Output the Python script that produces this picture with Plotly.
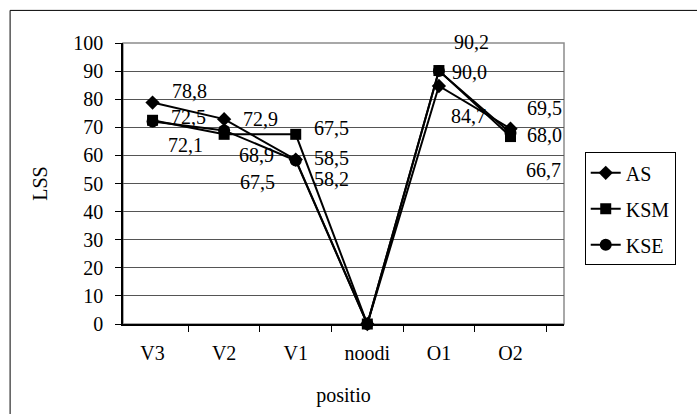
import plotly.graph_objects as go

# Positions along the spine and the measured LSS values per group
categories = ["V3", "V2", "V1", "noodi", "O1", "O2"]
as_values = [78.8, 72.9, 58.5, 0.0, 84.7, 69.5]
ksm_values = [72.5, 67.5, 67.5, 0.0, 90.2, 66.7]
kse_values = [72.1, 68.9, 58.2, 0.0, 90.0, 68.0]
y_ticks = [0, 10, 20, 30, 40, 50, 60, 70, 80, 90, 100]

# Pixel offsets of each value label from its marker (None = no label)
as_label_shift = [(37, 12), (36, 0), (36, 2), None, (30, -30), (34, 21)]
ksm_label_shift = [(36, 3), (33, -48), (36, 6), None, (33, 29), (33, -33)]
kse_label_shift = [(33, -24), (32, -25), (36, -19), None, (31, -1), (34, -2)]

FONT = "Times New Roman, Liberation Serif, serif"
FS = 20

series = [
    ("AS", as_values, "diamond", 11, as_label_shift, 1),
    ("KSE", kse_values, "circle", 12, kse_label_shift, 3),
    ("KSM", ksm_values, "square", 11, ksm_label_shift, 2),
]

fig = go.Figure()
annotations = []
for name, vals, symbol, msize, shifts, rank in series:
    fig.add_trace(go.Scatter(
        x=categories, y=vals, name=name, mode="lines+markers",
        line=dict(color="black", width=2),
        marker=dict(symbol=symbol, size=msize, color="black"),
        legendgroup=name, legendrank=rank, cliponaxis=False,
    ))
    for cat, v, s in zip(categories, vals, shifts):
        if s is None:
            continue
        annotations.append(dict(
            x=cat, y=v, xref="x", yref="y",
            text=f"{v:.1f}".replace(".", ","),
            showarrow=False, xshift=s[0], yshift=s[1],
            font=dict(family=FONT, size=FS, color="black"),
        ))

shapes = [
    # outer chart frame
    dict(type="rect", xref="paper", yref="paper",
         x0=-0.256, x1=1.5, y0=-0.6, y1=1.116,
         line=dict(color="black", width=1), layer="below"),
    # plot-area frame
    dict(type="rect", xref="paper", yref="paper",
         x0=0, x1=1, y0=0, y1=1,
         line=dict(color="#8c8c8c", width=1.5), layer="below"),
]

fig.update_layout(
    width=697, height=414,
    margin=dict(l=123, r=133, t=43, b=90, autoexpand=False),
    paper_bgcolor="white", plot_bgcolor="white",
    font=dict(family=FONT, size=FS, color="black"),
    showlegend=True,
    legend=dict(
        x=1.047, y=0.611, xanchor="left", yanchor="top",
        bordercolor="black", borderwidth=1, bgcolor="white",
        traceorder="grouped", tracegroupgap=7,
        entrywidth=70,
        font=dict(family=FONT, size=FS, color="black"),
    ),
    annotations=annotations,
    shapes=shapes,
)

fig.update_xaxes(
    type="category", categoryorder="array", categoryarray=categories,
    showline=True, linecolor="black", linewidth=1.5,
    ticks="outside", tickson="boundaries", ticklen=6, tickcolor="black",
    showgrid=False, zeroline=False,
    tickfont=dict(family=FONT, size=FS, color="black"),
    ticklabelstandoff=10,
    title=dict(text="positio", font=dict(family=FONT, size=FS, color="black"), standoff=25),
)
fig.update_yaxes(
    range=[0, 100], tickvals=y_ticks,
    showline=True, linecolor="black", linewidth=1.5,
    ticks="outside", ticklen=6, tickcolor="black",
    showgrid=True, gridcolor="#555555", gridwidth=1,
    zeroline=False,
    tickfont=dict(family=FONT, size=FS, color="black"),
    ticklabelstandoff=8,
    title=dict(text="LSS", font=dict(family=FONT, size=FS, color="black"), standoff=20),
)

fig.write_html("out.html")
